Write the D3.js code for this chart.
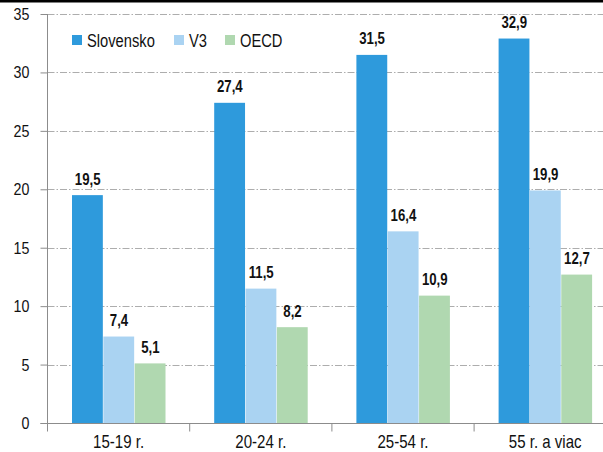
<!DOCTYPE html>
<html>
<head>
<meta charset="utf-8">
<script src="https://cdn.jsdelivr.net/npm/d3@7"></script>
<style>
  body { margin: 0; background: #fff; }
  svg { display: block; font-family: "Liberation Sans", Arial, sans-serif; }
</style>
</head>
<body>
<svg id="chart"></svg>
<script>
// Data
const categories = ["15-19 r.", "20-24 r.", "25-54 r.", "55 r. a viac"];
const seriesNames = ["Slovensko", "V3", "OECD"];
const slovensko = [19.5, 27.4, 31.5, 32.9];
const v3 = [7.4, 11.5, 16.4, 19.9];
const oecd = [5.1, 8.2, 10.9, 12.7];
const yTicks = [0, 5, 10, 15, 20, 25, 30, 35];

// Chart Dimensions
const width = 603;
const height = 452;
const plotLeft = 47.5;
const plotBottom = 423;
const plotTop = 14;
const narrow = 0.84; // condensed look of the original font

const svg = d3.select("#chart").attr("width", width).attr("height", height);

// Color Scale
const color = d3.scaleOrdinal().domain(seriesNames).range(["#2e9adc", "#aad3f2", "#b0d8b0"]);

// Scales
const x = d3.scaleBand().domain(categories).range([plotLeft, plotLeft + 4 * 142.2]);
const xInner = d3.scaleBand().domain(seriesNames).range([24.5, 118.5]);
const y = d3.scaleLinear().domain([0, 35]).range([plotBottom, plotTop]);

// place text squeezed horizontally
function squeeze(sel, fx, fy, s) {
  sel.attr("transform", (d, i) => `translate(${fx(d, i)},${fy(d, i)}) scale(${s || narrow},1)`);
}

// Black strip at top (cropped source)
svg.append("rect").attr("x", 0).attr("y", 0).attr("width", width).attr("height", 2.5).attr("fill", "#000");

// Gridlines
svg.append("g")
  .selectAll("line")
  .data(yTicks.filter((d) => d > 0))
  .enter()
  .append("line")
  .attr("x1", plotLeft)
  .attr("x2", width)
  .attr("y1", (d) => Math.round(y(d)) + 0.5)
  .attr("y2", (d) => Math.round(y(d)) + 0.5)
  .attr("stroke", "#adadad")
  .attr("stroke-dasharray", "7,2,1.5,2");

// Rows per category
const rows = categories.map((c, i) => ({
  cat: c,
  values: [slovensko[i], v3[i], oecd[i]].map((v, j) => ({ key: seriesNames[j], value: v }))
}));

const group = svg.selectAll(".grp")
  .data(rows)
  .enter()
  .append("g")
  .attr("class", "grp")
  .attr("transform", (d) => `translate(${x(d.cat)},0)`);

// Bars
group.selectAll("rect")
  .data((d) => d.values)
  .enter()
  .append("rect")
  .attr("x", (d) => xInner(d.key))
  .attr("y", (d) => y(d.value))
  .attr("width", xInner.bandwidth() - 0.5)
  .attr("height", (d) => plotBottom - y(d.value))
  .attr("fill", (d) => color(d.key));

// Value labels
group.selectAll("text")
  .data((d) => d.values)
  .enter()
  .append("text")
  .attr("text-anchor", "middle")
  .attr("font-size", 16.5)
  .attr("font-weight", "bold")
  .attr("fill", "#111")
  .text((d) => d.value.toFixed(1).replace(".", ","))
  .call(squeeze, (d) => xInner(d.key) + xInner.bandwidth() / 2, (d) => y(d.value) - 10.5, 0.8);

// Y axis
const yAxis = svg.append("g")
  .attr("transform", `translate(${plotLeft},0)`)
  .call(d3.axisLeft(y).tickValues(yTicks).tickSize(7).tickFormat(""));
yAxis.select(".domain").attr("stroke", "#8c8c8c").attr("d", `M0,${plotTop}V${plotBottom}`);
yAxis.selectAll(".tick line").attr("stroke", "#8c8c8c");

svg.append("g")
  .selectAll("text")
  .data(yTicks)
  .enter()
  .append("text")
  .attr("text-anchor", "end")
  .attr("font-size", 17)
  .attr("fill", "#111")
  .text((d) => d)
  .call(squeeze, () => 29.5, (d) => y(d) + 6);

// X axis
const xAxisG = svg.append("g").attr("transform", `translate(0,${plotBottom + 0.5})`);
xAxisG.append("line").attr("x1", plotLeft - 7).attr("x2", width).attr("stroke", "#8c8c8c");
xAxisG.selectAll(".xt")
  .data(categories)
  .enter()
  .append("line")
  .attr("x1", (d) => x(d))
  .attr("x2", (d) => x(d))
  .attr("y1", 0)
  .attr("y2", 8)
  .attr("stroke", "#8c8c8c");
xAxisG.selectAll("text")
  .data(categories)
  .enter()
  .append("text")
  .attr("text-anchor", "middle")
  .attr("font-size", 17.5)
  .attr("fill", "#111")
  .text((d) => d)
  .call(squeeze, (d) => x(d) + x.bandwidth() / 2, () => 24.5, 0.86);

// Legend
const legendX = [72, 174, 225];
const legend = svg.append("g");
const legendItem = legend.selectAll("g")
  .data(seriesNames)
  .enter()
  .append("g")
  .attr("transform", (d, i) => `translate(${legendX[i]},35)`);
legendItem.append("rect").attr("x", 0).attr("y", 0).attr("width", 10).attr("height", 10).attr("fill", (d) => color(d));
legendItem.append("text")
  .attr("font-size", 17.5)
  .attr("fill", "#111")
  .text((d) => d)
  .call(squeeze, () => 15, () => 12);
</script>
</body>
</html>
